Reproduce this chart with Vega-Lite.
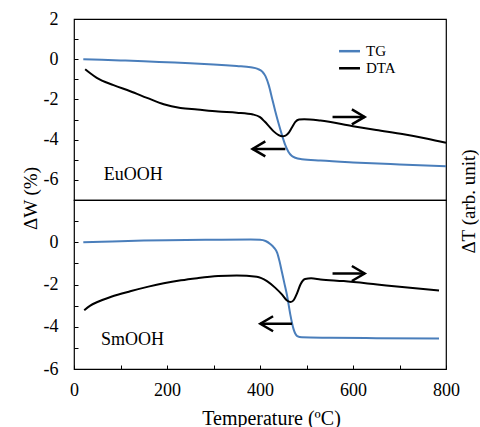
{
  "$schema": "https://vega.github.io/schema/vega-lite/v6.json",
  "padding": {"left": 20, "top": 9, "right": 0, "bottom": 0},
  "spacing": 0,
  "bounds": "flush",
  "config": {
    "font": "Liberation Serif",
    "view": {"stroke": "black", "strokeWidth": 1.2},
    "axis": {
      "labelFont": "Liberation Serif", "labelFontSize": 18, "labelColor": "black",
      "titleFont": "Liberation Serif", "titleFontSize": 19, "titleFontWeight": "normal", "titleColor": "black",
      "grid": false, "domain": false, "tickColor": "black", "tickSize": -4, "tickWidth": 1,
      "labelOverlap": false, "labelFlush": false
    }
  },
  "datasets": {
    "eu": [
      {"T":20,"v":0,"s":"TG"},{"T":60,"v":-0.03,"s":"TG"},{"T":100,"v":-0.06,"s":"TG"},{"T":150,"v":-0.1,"s":"TG"},{"T":200,"v":-0.15,"s":"TG"},{"T":250,"v":-0.2,"s":"TG"},{"T":300,"v":-0.26,"s":"TG"},{"T":350,"v":-0.34,"s":"TG"},{"T":380,"v":-0.4,"s":"TG"},{"T":395,"v":-0.48,"s":"TG"},{"T":405,"v":-0.62,"s":"TG"},{"T":412,"v":-0.85,"s":"TG"},{"T":419,"v":-1.3,"s":"TG"},{"T":426,"v":-1.95,"s":"TG"},{"T":433,"v":-2.6,"s":"TG"},{"T":440,"v":-3.2,"s":"TG"},{"T":447,"v":-3.75,"s":"TG"},{"T":454,"v":-4.25,"s":"TG"},{"T":461,"v":-4.6,"s":"TG"},{"T":468,"v":-4.8,"s":"TG"},{"T":476,"v":-4.9,"s":"TG"},{"T":490,"v":-4.97,"s":"TG"},{"T":530,"v":-5.04,"s":"TG"},{"T":600,"v":-5.13,"s":"TG"},{"T":700,"v":-5.23,"s":"TG"},{"T":800,"v":-5.32,"s":"TG"},
      {"T":24,"v":-0.5,"s":"DTA"},{"T":35,"v":-0.7,"s":"DTA"},{"T":49,"v":-0.93,"s":"DTA"},{"T":85,"v":-1.29,"s":"DTA"},{"T":121,"v":-1.59,"s":"DTA"},{"T":157,"v":-1.92,"s":"DTA"},{"T":193,"v":-2.24,"s":"DTA"},{"T":229,"v":-2.42,"s":"DTA"},{"T":265,"v":-2.5,"s":"DTA"},{"T":310,"v":-2.6,"s":"DTA"},{"T":350,"v":-2.66,"s":"DTA"},{"T":385,"v":-2.75,"s":"DTA"},{"T":400,"v":-2.88,"s":"DTA"},{"T":410,"v":-3.1,"s":"DTA"},{"T":420,"v":-3.35,"s":"DTA"},{"T":430,"v":-3.6,"s":"DTA"},{"T":440,"v":-3.77,"s":"DTA"},{"T":448,"v":-3.83,"s":"DTA"},{"T":455,"v":-3.8,"s":"DTA"},{"T":462,"v":-3.65,"s":"DTA"},{"T":469,"v":-3.38,"s":"DTA"},{"T":476,"v":-3.12,"s":"DTA"},{"T":484,"v":-3.0,"s":"DTA"},{"T":495,"v":-2.98,"s":"DTA"},{"T":530,"v":-3.05,"s":"DTA"},{"T":600,"v":-3.33,"s":"DTA"},{"T":650,"v":-3.52,"s":"DTA"},{"T":709,"v":-3.73,"s":"DTA"},{"T":760,"v":-3.95,"s":"DTA"},{"T":800,"v":-4.15,"s":"DTA"}
    ],
    "sm": [
      {"T":20,"v":0,"s":"TG"},{"T":60,"v":0.02,"s":"TG"},{"T":100,"v":0.05,"s":"TG"},{"T":150,"v":0.08,"s":"TG"},{"T":200,"v":0.1,"s":"TG"},{"T":300,"v":0.12,"s":"TG"},{"T":380,"v":0.13,"s":"TG"},{"T":400,"v":0.12,"s":"TG"},{"T":412,"v":0.06,"s":"TG"},{"T":422,"v":-0.08,"s":"TG"},{"T":430,"v":-0.25,"s":"TG"},{"T":437,"v":-0.5,"s":"TG"},{"T":442,"v":-0.9,"s":"TG"},{"T":447,"v":-1.4,"s":"TG"},{"T":452,"v":-1.9,"s":"TG"},{"T":458,"v":-2.5,"s":"TG"},{"T":465,"v":-3.4,"s":"TG"},{"T":472,"v":-4.1,"s":"TG"},{"T":480,"v":-4.44,"s":"TG"},{"T":490,"v":-4.5,"s":"TG"},{"T":550,"v":-4.52,"s":"TG"},{"T":650,"v":-4.54,"s":"TG"},{"T":785,"v":-4.56,"s":"TG"},
      {"T":22,"v":-3.22,"s":"DTA"},{"T":35,"v":-3.0,"s":"DTA"},{"T":49,"v":-2.84,"s":"DTA"},{"T":80,"v":-2.58,"s":"DTA"},{"T":121,"v":-2.32,"s":"DTA"},{"T":160,"v":-2.1,"s":"DTA"},{"T":193,"v":-1.94,"s":"DTA"},{"T":230,"v":-1.8,"s":"DTA"},{"T":265,"v":-1.7,"s":"DTA"},{"T":310,"v":-1.6,"s":"DTA"},{"T":350,"v":-1.57,"s":"DTA"},{"T":393,"v":-1.63,"s":"DTA"},{"T":415,"v":-1.84,"s":"DTA"},{"T":433,"v":-2.16,"s":"DTA"},{"T":447,"v":-2.47,"s":"DTA"},{"T":458,"v":-2.76,"s":"DTA"},{"T":466,"v":-2.83,"s":"DTA"},{"T":473,"v":-2.72,"s":"DTA"},{"T":480,"v":-2.4,"s":"DTA"},{"T":487,"v":-2.0,"s":"DTA"},{"T":497,"v":-1.74,"s":"DTA"},{"T":510,"v":-1.71,"s":"DTA"},{"T":530,"v":-1.76,"s":"DTA"},{"T":580,"v":-1.84,"s":"DTA"},{"T":652,"v":-2.0,"s":"DTA"},{"T":700,"v":-2.11,"s":"DTA"},{"T":785,"v":-2.28,"s":"DTA"}
    ],
    "euLabel": [{"T": 64, "v": -5.74, "label": "EuOOH"}],
    "smLabel": [{"T": 58, "v": -4.65, "label": "SmOOH"}],
    "legendRows": [{"T": 570, "T2": 615, "v": 0.4, "s": "TG", "lx": 628}, {"T": 570, "T2": 615, "v": -0.45, "s": "DTA", "lx": 628}],
    "euArrows": [{"T": 625, "T2": 556, "v": -2.87, "dir": "right"}, {"T": 384, "T2": 454.5, "v": -4.46, "dir": "left"}],
    "smArrows": [{"T": 625, "T2": 556, "v": -1.48, "dir": "right"}, {"T": 400.7, "T2": 469, "v": -3.86, "dir": "left"}]
  },
  "vconcat": [
    {
      "width": 372, "height": 181,
      "resolve": {"axis": {"y": "independent"}},
      "layer": [
        {
          "data": {"name": "eu"},
          "mark": {"type": "line", "strokeWidth": 2, "interpolate": "monotone"},
          "encoding": {
            "x": {"field": "T", "type": "quantitative", "scale": {"domain": [0, 800], "nice": false}, "axis": null},
            "y": {"field": "v", "type": "quantitative", "scale": {"domain": [-7, 2], "nice": false, "zero": false},
                  "axis": {"values": [-7,-6,-5,-4,-3,-2,-1,0,1,2], "labelExpr": "datum.value % 2 === 0 ? '' + datum.value : ''", "labelPadding": 20, "labelFont": "Liberation Serif", "titleFont": "Liberation Serif", "title": "ΔW (%)", "titleY": 179, "titlePadding": 3}},
            "color": {"field": "s", "type": "nominal", "scale": {"domain": ["TG", "DTA"], "range": ["#4a7ebb", "#000000"]}, "legend": null}
          }
        },
        {
          "data": {"name": "legendRows"},
          "mark": {"type": "rule", "strokeWidth": 2.5},
          "encoding": {
            "x": {"field": "T", "type": "quantitative", "axis": null},
            "x2": {"field": "T2"},
            "y": {"field": "v", "type": "quantitative", "axis": null},
            "color": {"field": "s", "type": "nominal", "legend": null}
          }
        },
        {
          "data": {"name": "legendRows"},
          "mark": {"type": "text", "align": "left", "baseline": "middle", "fontSize": 15, "font": "Liberation Serif", "color": "black"},
          "encoding": {
            "x": {"field": "lx", "type": "quantitative", "axis": null},
            "y": {"field": "v", "type": "quantitative", "axis": null},
            "text": {"field": "s"}
          }
        },
        {
          "data": {"name": "euLabel"},
          "mark": {"type": "text", "align": "left", "baseline": "middle", "fontSize": 18, "font": "Liberation Serif", "color": "black"},
          "encoding": {
            "x": {"field": "T", "type": "quantitative", "axis": null},
            "y": {"field": "v", "type": "quantitative", "axis": {"orient": "right", "ticks": false, "labels": false, "domain": false, "title": "ΔT (arb. unit)", "titleFont": "Liberation Serif", "titleAngle": 270, "titleBaseline": "top", "titleY": 182, "titlePadding": 13}},
            "text": {"field": "label"}
          }
        },
        {
          "data": {"name": "euArrows"},
          "mark": {"type": "rule", "strokeWidth": 2.5, "color": "black"},
          "encoding": {
            "x": {"field": "T", "type": "quantitative", "axis": null},
            "x2": {"field": "T2"},
            "y": {"field": "v", "type": "quantitative", "axis": null}
          }
        },
        {
          "data": {"name": "euArrows"},
          "mark": {"type": "point", "filled": false, "strokeWidth": 2.5, "color": "black", "size": 225, "opacity": 1},
          "encoding": {
            "x": {"field": "T", "type": "quantitative", "axis": null},
            "y": {"field": "v", "type": "quantitative", "axis": null},
            "shape": {"field": "dir", "type": "nominal", "scale": {"domain": ["right", "left"], "range": ["M-1.7,-1L0,0L-1.7,1", "M1.7,-1L0,0L1.7,1"]}, "legend": null}
          }
        }
      ]
    },
    {
      "width": 372, "height": 169,
      "resolve": {"axis": {"y": "independent"}},
      "layer": [
        {
          "data": {"name": "sm"},
          "mark": {"type": "line", "strokeWidth": 2, "interpolate": "monotone"},
          "encoding": {
            "x": {"field": "T", "type": "quantitative", "scale": {"domain": [0, 800], "nice": false}, "title": "Temperature (ºC)",
                  "axis": {"values": [0,100,200,300,400,500,600,700,800], "labelExpr": "datum.value % 200 === 0 ? '' + datum.value : ''", "labelPadding": 16, "labelFlush": false, "labelFont": "Liberation Serif", "titleFont": "Liberation Serif", "titleFontSize": 20, "titleX": 197, "titlePadding": 9}},
            "y": {"field": "v", "type": "quantitative", "scale": {"domain": [-6, 2], "nice": false, "zero": false},
                  "axis": {"values": [-6,-5,-4,-3,-2,-1,0,1], "labelExpr": "datum.value % 2 === 0 ? '' + datum.value : ''", "labelPadding": 20, "labelFont": "Liberation Serif", "title": null}},
            "color": {"field": "s", "type": "nominal", "scale": {"domain": ["TG", "DTA"], "range": ["#4a7ebb", "#000000"]}, "legend": null}
          }
        },
        {
          "data": {"name": "smLabel"},
          "mark": {"type": "text", "align": "left", "baseline": "middle", "fontSize": 18, "font": "Liberation Serif", "color": "black"},
          "encoding": {
            "x": {"field": "T", "type": "quantitative", "title": "Temperature (ºC)"},
            "y": {"field": "v", "type": "quantitative", "axis": null},
            "text": {"field": "label"}
          }
        },
        {
          "data": {"name": "smArrows"},
          "mark": {"type": "rule", "strokeWidth": 2.5, "color": "black"},
          "encoding": {
            "x": {"field": "T", "type": "quantitative", "title": "Temperature (ºC)"},
            "x2": {"field": "T2"},
            "y": {"field": "v", "type": "quantitative", "axis": null}
          }
        },
        {
          "data": {"name": "smArrows"},
          "mark": {"type": "point", "filled": false, "strokeWidth": 2.5, "color": "black", "size": 225, "opacity": 1},
          "encoding": {
            "x": {"field": "T", "type": "quantitative", "title": "Temperature (ºC)"},
            "y": {"field": "v", "type": "quantitative", "axis": null},
            "shape": {"field": "dir", "type": "nominal", "scale": {"domain": ["right", "left"], "range": ["M-1.7,-1L0,0L-1.7,1", "M1.7,-1L0,0L1.7,1"]}, "legend": null}
          }
        }
      ]
    }
  ]
}
